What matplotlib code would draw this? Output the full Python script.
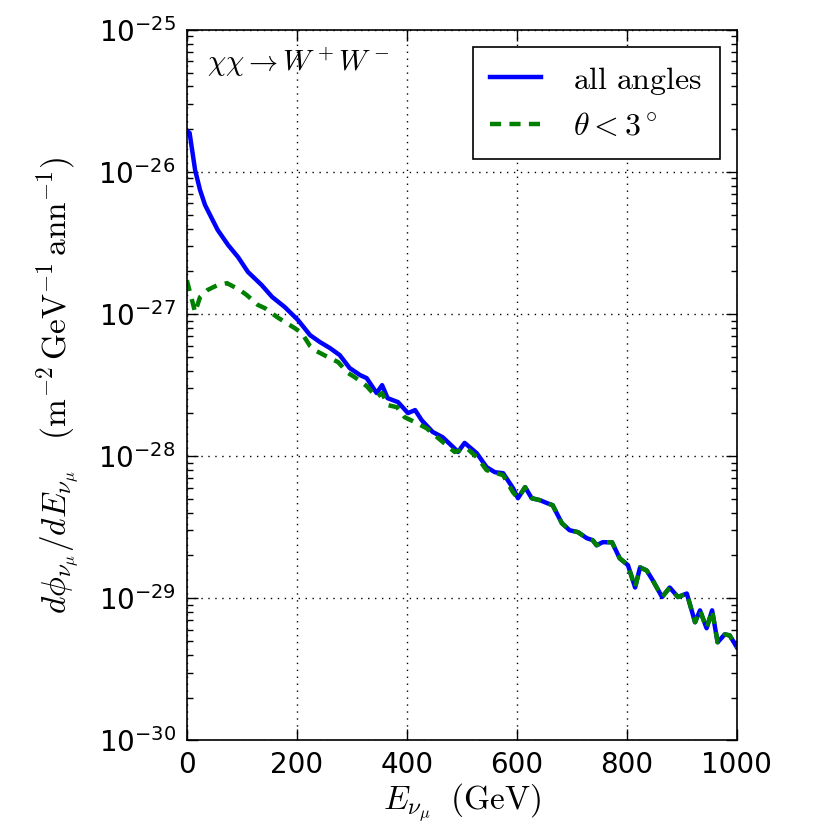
import matplotlib
matplotlib.use("Agg")
import matplotlib.pyplot as plt
from matplotlib.ticker import FixedLocator

# energy grid (GeV) and flux (m^-2 GeV^-1 ann^-1)
e_all = [0, 5, 15, 24, 33, 45, 56, 75, 93, 111, 136, 155, 178, 202, 224, 242,
         260, 278, 296, 315, 327, 345, 355, 365, 384, 402, 415, 427, 447, 465,
         484, 493, 505, 527, 545, 560, 575, 593, 602, 615, 627, 642, 655, 665,
         682, 696, 711, 727, 738, 745, 756, 773, 787, 802, 815, 824, 836, 847,
         864, 878, 893, 909, 924, 933, 945, 955, 965, 978, 987, 1000]
flux_all = [1.95e-26, 1.88e-26, 1.03e-26, 7.46e-27, 5.86e-27, 4.74e-27,
            3.91e-27, 3.06e-27, 2.52e-27, 1.98e-27, 1.60e-27, 1.32e-27,
            1.12e-27, 9.08e-28, 7.11e-28, 6.35e-28, 5.77e-28, 5.14e-28,
            4.17e-28, 3.72e-28, 3.54e-28, 2.78e-28, 3.16e-28, 2.56e-28,
            2.40e-28, 2.01e-28, 2.11e-28, 1.79e-28, 1.48e-28, 1.36e-28,
            1.16e-28, 1.07e-28, 1.24e-28, 1.05e-28, 8.37e-29, 7.71e-29,
            7.59e-29, 5.96e-29, 5.06e-29, 6.05e-29, 5.06e-29, 4.90e-29,
            4.67e-29, 4.52e-29, 3.37e-29, 3.01e-29, 2.92e-29, 2.65e-29,
            2.56e-29, 2.36e-29, 2.48e-29, 2.48e-29, 1.91e-29, 1.71e-29,
            1.19e-29, 1.65e-29, 1.57e-29, 1.34e-29, 1.02e-29, 1.19e-29,
            1.02e-29, 1.08e-29, 6.78e-30, 8.22e-30, 6.15e-30, 8.22e-30,
            4.90e-30, 5.57e-30, 5.48e-30, 4.52e-30]

e_cone = [0, 15, 24, 38, 56, 73, 96, 109, 129, 142, 164, 178, 196, 209, 224,
          236, 260, 275, 293, 305, 327, 345, 355, 365, 382, 396, 418, 436,
          455, 487, 509, 529, 545, 575, 593, 602, 615, 627, 642, 655, 665,
          682, 696, 711, 727, 738, 745, 756, 773, 787, 802, 815, 824, 836,
          847, 864, 878, 893, 909, 924, 933, 945, 955, 965, 978, 987, 1000]
flux_cone = [1.73e-27, 1.03e-27, 1.32e-27, 1.48e-27, 1.60e-27, 1.65e-27,
             1.48e-27, 1.36e-27, 1.16e-27, 1.10e-27, 9.53e-28, 8.79e-28,
             7.97e-28, 7.35e-28, 5.96e-28, 5.48e-28, 4.90e-28, 4.59e-28,
             3.85e-28, 3.60e-28, 3.11e-28, 2.60e-28, 2.78e-28, 2.29e-28,
             2.21e-28, 1.88e-28, 1.71e-28, 1.57e-28, 1.36e-28, 1.07e-28,
             1.14e-28, 9.68e-29, 7.97e-29, 7.35e-29, 5.57e-29, 5.06e-29,
             6.05e-29, 5.06e-29, 4.90e-29, 4.67e-29, 4.52e-29, 3.37e-29,
             3.01e-29, 2.92e-29, 2.65e-29, 2.56e-29, 2.36e-29, 2.48e-29,
             2.48e-29, 1.91e-29, 1.71e-29, 1.19e-29, 1.65e-29, 1.57e-29,
             1.34e-29, 1.02e-29, 1.19e-29, 1.02e-29, 1.08e-29, 6.78e-30,
             8.22e-30, 6.15e-30, 8.22e-30, 4.90e-30, 5.57e-30, 5.48e-30,
             4.52e-30]

x_ticks = [0, 200, 400, 600, 800, 1000]
y_ticks = [1e-30, 1e-29, 1e-28, 1e-27, 1e-26, 1e-25]

plt.rcParams['mathtext.fontset'] = 'cm'
plt.rcParams['xtick.direction'] = 'in'
plt.rcParams['ytick.direction'] = 'in'
plt.rcParams['xtick.top'] = True
plt.rcParams['ytick.right'] = True
plt.rcParams['lines.scale_dashes'] = False

fig = plt.figure(figsize=(8.16, 8.30), dpi=100)
ax = fig.add_axes([0.229, 0.108, 0.674, 0.856])

ax.plot(e_all, flux_all, color='#0000ff', lw=3.2, label=r'$\mathrm{all\ angles}$')
ax.plot(e_cone, flux_cone, color='#007f00', lw=3.2, dashes=(8, 6),
        label=r'$\theta < 3^\circ$')

ax.set_yscale('log')
ax.set_xlim(0, 1000)
ax.set_ylim(1e-30, 1e-25)
ax.set_xticks(x_ticks)
ax.yaxis.set_major_locator(FixedLocator(y_ticks))
ax.grid(True, which='major', color='black', linestyle=(0, (1, 4)), linewidth=1)

ax.tick_params(which='major', length=8, width=1, labelsize=20, pad=8)
ax.tick_params(which='minor', length=4, width=1)
for sp in ax.spines.values():
    sp.set_linewidth(1.2)

ax.set_xlabel(r'$E_{\nu_\mu}\ \;(\mathrm{GeV})$', fontsize=24, labelpad=2)
ax.set_ylabel(r'$d\phi_{\nu_\mu}/dE_{\nu_\mu}\quad(\mathrm{m^{-2}\,GeV^{-1}\,ann^{-1}})$',
              fontsize=24, labelpad=12)

ax.text(0.036, 0.955, r'$\chi\chi \rightarrow W^+W^-$', transform=ax.transAxes,
        fontsize=21, va='center', ha='left')

leg = ax.legend(loc='upper right', bbox_to_anchor=(0.969, 0.976),
                borderaxespad=0, fontsize=23, fancybox=False, framealpha=1,
                edgecolor='black', handlelength=1.6, handletextpad=1.0,
                borderpad=0.55, labelspacing=0.45)
leg.get_frame().set_linewidth(1.2)

fig.savefig('out.png', dpi=100)
